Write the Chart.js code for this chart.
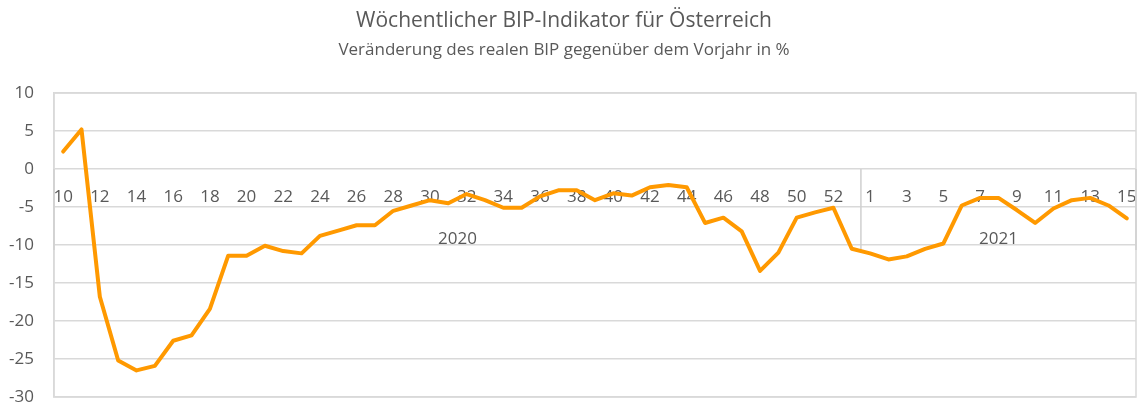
<!DOCTYPE html>
<html>
<head>
<meta charset="utf-8">
<script src="https://cdn.jsdelivr.net/npm/chart.js@4.4.1/dist/chart.umd.min.js"></script>
<style>
html,body{margin:0;padding:0;background:#ffffff;}
#wrap{width:1139px;height:407px;position:relative;}
</style>
</head>
<body>
<div id="wrap"><canvas id="c" width="1139" height="407"></canvas></div>
<script>
const chartTitle = 'Wöchentlicher BIP-Indikator für Österreich';
const chartSubtitle = 'Veränderung des realen BIP gegenüber dem Vorjahr in %';

const weeks2020 = ['10','11','12','13','14','15','16','17','18','19','20','21','22','23','24','25','26','27','28','29','30','31','32','33','34','35','36','37','38','39','40','41','42','43','44','45','46','47','48','49','50','51','52','53'];
const weeks2021 = ['1','2','3','4','5','6','7','8','9','10','11','12','13','14','15'];

const values2020 = [2.3, 5.2, -16.8, -25.2, -26.5, -25.9, -22.6, -21.9, -18.4, -11.4, -11.4, -10.1, -10.8, -11.1, -8.8, -8.1, -7.4, -7.4, -5.5, -4.8, -4.1, -4.5, -3.3, -4.1, -5.1, -5.1, -3.6, -2.8, -2.8, -4.1, -3.2, -3.5, -2.4, -2.1, -2.4, -7.1, -6.4, -8.2, -13.4, -11.0, -6.4, -5.7, -5.1, -10.5];
const values2021 = [-11.1, -11.9, -11.5, -10.5, -9.8, -4.8, -3.8, -3.8, -5.4, -7.1, -5.2, -4.1, -3.8, -4.8, -6.5];

const yearLabels = ['2020', '2021'];
const yMin = -30, yMax = 10, yStep = 5;

const labels = weeks2020.concat(weeks2021);
const values = values2020.concat(values2021);
const groupSizes = [weeks2020.length, weeks2021.length];

const TEXT = '#595959';
const GRID = '#d9d9d9';
const FONT = "'Open Sans', 'Noto Sans', sans-serif";

const decor = {
  id: 'decor',
  beforeDatasetsDraw(chart) {
    const {ctx, chartArea: a, scales: {x, y}} = chart;
    ctx.save();
    ctx.strokeStyle = GRID;
    ctx.lineWidth = 1.5;
    ctx.strokeRect(a.left, a.top, a.right - a.left, a.bottom - a.top);
    const y0 = y.getPixelForValue(0);
    ctx.strokeStyle = '#cfcfcf';
    let start = 0;
    const bounds = [-0.5];
    groupSizes.forEach(n => { start += n; bounds.push(start - 0.5); });
    bounds.forEach(b => {
      const px = x.getPixelForValue(b);
      ctx.beginPath();
      ctx.moveTo(px, y0);
      ctx.lineTo(px, y0 + 81);
      ctx.stroke();
    });
    ctx.fillStyle = TEXT;
    ctx.font = "17px " + FONT;
    ctx.textAlign = 'center';
    ctx.textBaseline = 'middle';
    start = 0;
    groupSizes.forEach((n, i) => {
      const cx = (x.getPixelForValue(start - 0.5) + x.getPixelForValue(start + n - 0.5)) / 2;
      ctx.fillText(yearLabels[i], cx, y0 + 70);
      start += n;
    });
    ctx.restore();
  },
  afterDraw(chart) {
    const {ctx} = chart;
    ctx.save();
    ctx.fillStyle = TEXT;
    ctx.textAlign = 'center';
    ctx.textBaseline = 'middle';
    ctx.font = "21px " + FONT;
    ctx.fillText(chartTitle, 564, 21);
    ctx.font = "17px " + FONT;
    ctx.fillText(chartSubtitle, 564, 50);
    ctx.restore();
  }
};

new Chart(document.getElementById('c'), {
  type: 'line',
  data: {
    labels: labels,
    datasets: [{
      data: values,
      borderColor: '#FF9900',
      backgroundColor: '#FF9900',
      borderWidth: 4,
      pointRadius: 0,
      tension: 0,
      borderCapStyle: 'round',
      borderJoinStyle: 'round',
      fill: false
    }]
  },
  options: {
    responsive: false,
    animation: false,
    devicePixelRatio: 1,
    layout: { padding: { top: 93, right: 3, bottom: 10, left: 0 } },
    plugins: { legend: { display: false }, tooltip: { enabled: false }, title: { display: false } },
    scales: {
      x: {
        type: 'category',
        position: { y: 0 },
        offset: true,
        grid: { display: false, drawTicks: false },
        border: { display: false },
        afterFit: s => { s.height = 0; s.paddingLeft = 0; s.paddingRight = 0; s.paddingTop = 0; s.paddingBottom = 0; },
        ticks: {
          autoSkip: false,
          maxRotation: 0,
          minRotation: 0,
          padding: 18,
          color: TEXT,
          font: { family: FONT, size: 17 },
          callback: function(val, idx) { return idx % 2 === 0 ? this.getLabelForValue(val) : ''; }
        }
      },
      y: {
        min: yMin,
        max: yMax,
        afterFit: s => { s.width = 54; s.paddingTop = 0; s.paddingBottom = 0; },
        grid: { color: GRID, lineWidth: 1.5, drawTicks: false },
        border: { display: true, color: GRID, width: 1.5 },
        ticks: {
          stepSize: yStep,
          padding: 20,
          color: TEXT,
          font: { family: FONT, size: 17 }
        }
      }
    }
  },
  plugins: [decor]
});
</script>
</body>
</html>
